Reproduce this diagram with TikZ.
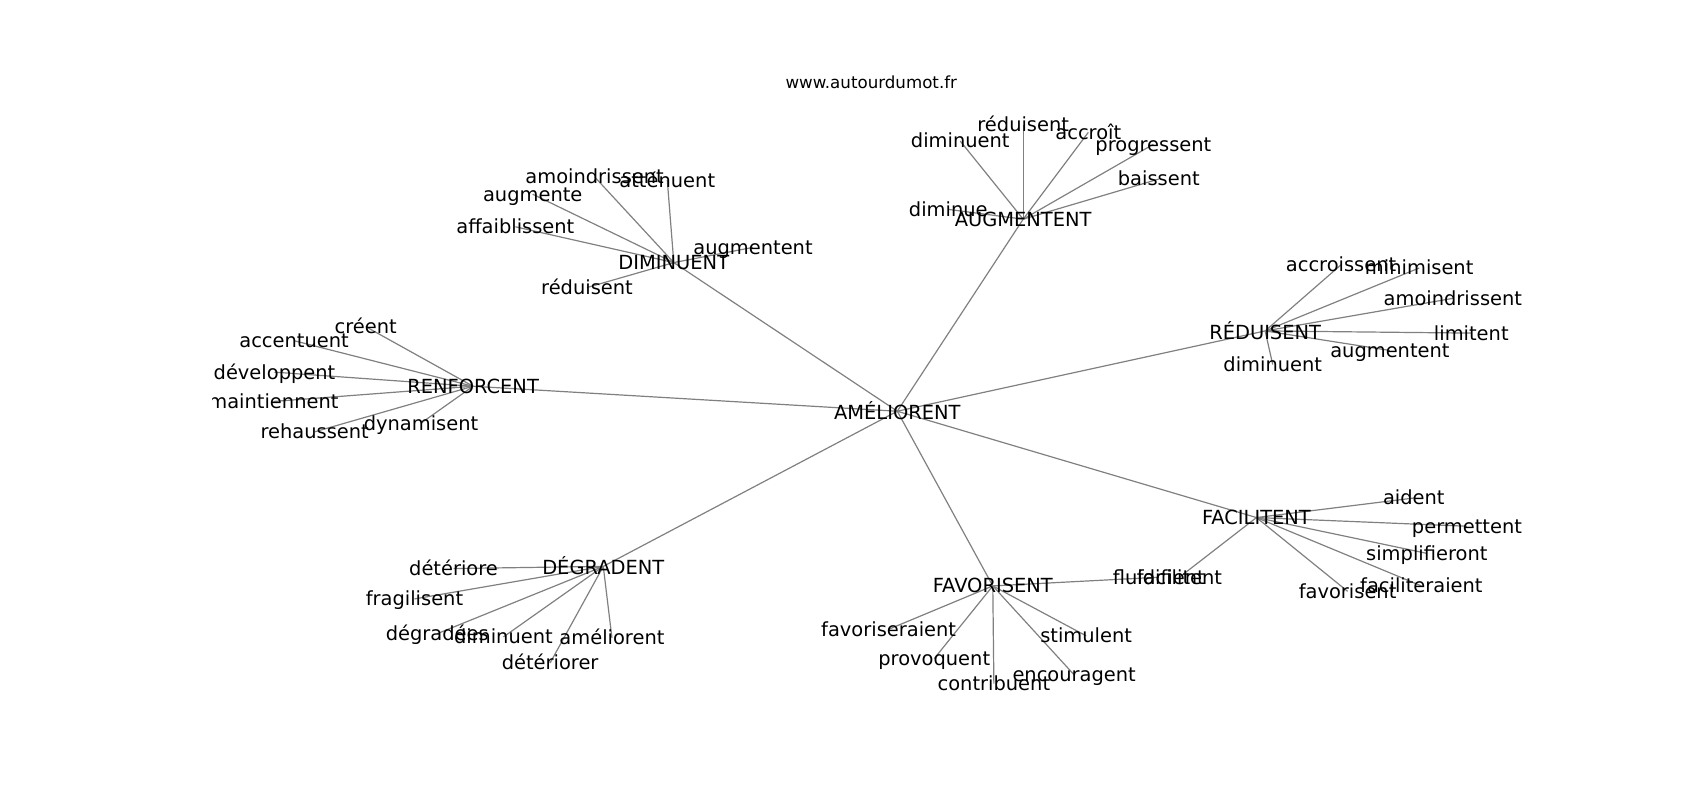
\documentclass[tikz,border=0pt]{standalone}
\usepackage{fontspec}
\newfontfamily\lbfamily{DejaVu Sans}
\newcommand\lbfont{\lbfamily\fontsize{19.44}{23}\selectfont}
\newcommand\ttlfont{\lbfamily\fontsize{16.67}{20}\selectfont}
\pgfdeclarelayer{background}
\pgfsetlayers{background,main}
\tikzset{
  lbl/.style={font=\lbfont, inner sep=0pt, text height=17.9pt, text depth=4.04pt, anchor=center},
  capacc/.style={text height=21.0pt},
  edge/.style={draw=gray, line width=1.2pt}
}
\begin{document}
\begin{tikzpicture}[x=1.085pt,y=-1.085pt]
\useasboundingbox (0,0) rectangle (1566.8,737.3);
\node[font=\ttlfont, inner sep=0pt, anchor=base] (title) at (803,82) {www.autourdumot.fr};
\begin{scope}
\clip (195.85,88.5) rectangle (1410.1,656.2);
% hubs
\node[lbl,capacc] (amel) at (827,379) {AMÉLIORENT};
\node[lbl] (dimi) at (621,242) {DIMINUENT};
\node[lbl] (augm) at (943,202) {AUGMENTENT};
\node[lbl,capacc] (redu) at (1166,305) {RÉDUISENT};
\node[lbl] (renf) at (436,356) {RENFORCENT};
\node[lbl,capacc] (degr) at (556,522) {DÉGRADENT};
\node[lbl] (favo) at (915,540) {FAVORISENT};
\node[lbl] (faci) at (1158,477) {FACILITENT};
% DIMINUENT leaves
\node[lbl] (d1) at (548,163) {amoindrissent};
\node[lbl] (d2) at (615,166) {atténuent};
\node[lbl] (d3) at (491,179) {augmente};
\node[lbl] (d4) at (475,209) {affaiblissent};
\node[lbl] (d5) at (694,228) {augmentent};
\node[lbl] (d6) at (541,265) {réduisent};
% AUGMENTENT leaves
\node[lbl] (a1) at (885,130) {diminuent};
\node[lbl] (a2) at (943,115) {réduisent};
\node[lbl] (a3) at (1003,122) {accroît};
\node[lbl] (a4) at (1063,133) {progressent};
\node[lbl] (a5) at (1068,165) {baissent};
\node[lbl] (a6) at (874,193) {diminue};
% RÉDUISENT leaves
\node[lbl] (r1) at (1236,244) {accroissent};
\node[lbl] (r2) at (1308,247) {minimisent};
\node[lbl] (r3) at (1339,275) {amoindrissent};
\node[lbl] (r4) at (1356,307) {limitent};
\node[lbl] (r5) at (1281,323) {augmentent};
\node[lbl] (r6) at (1173,336) {diminuent};
% RENFORCENT leaves
\node[lbl] (n1) at (337,301) {créent};
\node[lbl] (n2) at (271,314) {accentuent};
\node[lbl] (n3) at (253,343) {développent};
\node[lbl] (n4) at (252,370) {maintiennent};
\node[lbl] (n5) at (290,398) {rehaussent};
\node[lbl] (n6) at (388,390) {dynamisent};
% DÉGRADENT leaves
\node[lbl] (g1) at (418,524) {détériore};
\node[lbl] (g2) at (382,552) {fragilisent};
\node[lbl] (g3) at (403,584) {dégradées};
\node[lbl] (g4) at (464,587) {diminuent};
\node[lbl] (g5) at (564,588) {améliorent};
\node[lbl] (g6) at (507,611) {détériorer};
% FAVORISENT leaves
\node[lbl] (f1) at (1068,532) {fluidifient};
\node[lbl] (f2) at (819,580) {favoriseraient};
\node[lbl] (f3) at (861,607) {provoquent};
\node[lbl] (f4) at (916,630) {contribuent};
\node[lbl] (f5) at (990,622) {encouragent};
\node[lbl] (f6) at (1001,586) {stimulent};
% FACILITENT leaves
\node[lbl] (c1) at (1303,459) {aident};
\node[lbl] (c2) at (1352,485) {permettent};
\node[lbl] (c3) at (1315,510) {simplifieront};
\node[lbl] (c4) at (1310,540) {faciliteraient};
\node[lbl] (c5) at (1242,545) {favorisent};
\node[lbl] (c6) at (1087,532) {facilitent};
\end{scope}
\begin{pgfonlayer}{background}
\foreach \h in {dimi,augm,redu,renf,degr,favo,faci}
  \draw[edge] (amel.center) -- (\h.center);
\foreach \l in {d1,d2,d3,d4,d5,d6}
  \draw[edge] (dimi.center) -- (\l.center);
\foreach \l in {a1,a2,a3,a4,a5,a6}
  \draw[edge] (augm.center) -- (\l.center);
\foreach \l in {r1,r2,r3,r4,r5,r6}
  \draw[edge] (redu.center) -- (\l.center);
\foreach \l in {n1,n2,n3,n4,n5,n6}
  \draw[edge] (renf.center) -- (\l.center);
\foreach \l in {g1,g2,g3,g4,g5,g6}
  \draw[edge] (degr.center) -- (\l.center);
\foreach \l in {f1,f2,f3,f4,f5,f6}
  \draw[edge] (favo.center) -- (\l.center);
\foreach \l in {c1,c2,c3,c4,c5,c6}
  \draw[edge] (faci.center) -- (\l.center);
\end{pgfonlayer}
\end{tikzpicture}
\end{document}
